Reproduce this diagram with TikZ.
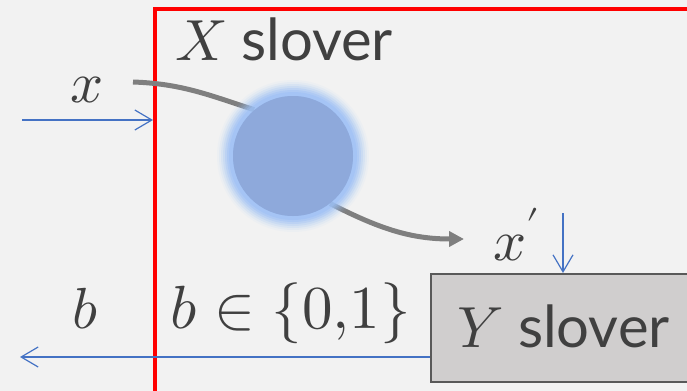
\documentclass[tikz,border=0pt]{standalone}
\usepackage{fontspec}
\usepackage{unicode-math}
\setsansfont{Lato}
\setmathfont{Latin Modern Math}
\usetikzlibrary{arrows.meta,positioning}
\definecolor{bgcol}{HTML}{F2F2F2}
\definecolor{txtgray}{HTML}{404040}
\definecolor{wireblue}{HTML}{4472C4}
\definecolor{ballblue}{HTML}{8EA9DB}
\definecolor{glowblue}{HTML}{9CC0F6}
\definecolor{pathgray}{HTML}{7F7F7F}
\definecolor{boxgray}{HTML}{D0CECE}
\definecolor{edgegray}{HTML}{595959}

\begin{document}
\begin{tikzpicture}[x=0.5pt,y=-0.5pt,
  lbl/.style={text=txtgray,inner sep=0pt,anchor=base west,font=\sffamily\fontsize{29}{34}\selectfont},
  ball/.style={circle,fill=ballblue,minimum size=120*0.5pt,inner sep=0pt},
  solver/.style={draw=edgegray,line width=1.2pt,fill=boxgray,minimum width=300*0.5pt,minimum height=108*0.5pt,inner sep=0pt,anchor=north west},
  wire/.style={draw=wireblue,line width=0.6pt,-{Straight Barb[length=8.5pt,width=10pt]}},
  flow/.style={draw=pathgray,line width=2.5pt,-{Triangle[length=7.5pt,width=7.5pt]}},
  frame/.style={draw=red,line width=1.6pt}
]
\fill[bgcol] (0,0) rectangle (687,391);
\clip (0,0) rectangle (687,391);
\draw[frame] (155,9) rectangle (720,420);

\node[lbl] (xtitle) at (175,61) {$X$ slover};
\node[lbl] (xin) at (70,103) {$x$};
\node[lbl] (xout) at (493,260) {$x'$};
\node[lbl] (bout) at (72,328) {$b$};
\node[lbl,font=\sffamily\fontsize{30.5}{34}\selectfont] (brange) at (170,328) {$b\in\{0{,}1\}$};

\node[ball] (ball) at (293,156) {};
\node[solver] (ysolver) at (430,273) {};
\node[lbl] (ytitle) at (457,347) {$Y$ slover};

\coordinate (pin) at (22,120);
\coordinate (pframe) at (153,120);
\coordinate (pstart) at (133,82);
\coordinate (ptip) at (464,239);
\coordinate (pdown) at (563,213);
\coordinate (pleft) at (20,357);

\draw[draw=pathgray,line width=2.5pt] (pstart) to[out=-2,in=162] (ball.130);
\draw[flow] (ball.-52) to[out=-27,in=180] (ptip);
\foreach \r/\o in {76/0.06,74/0.1,72/0.16,70/0.22,68/0.3,66/0.4,64/0.5}
  \fill[glowblue,opacity=\o] (ball.center) circle[radius=\r];
\node[ball] at (ball.center) {};

\draw[wire] (pin) -- (pframe);
\draw[wire] (pdown) -- (ysolver.north west -| pdown);
\draw[wire] (ysolver.west |- pleft) -- (pleft);
\end{tikzpicture}
\end{document}
